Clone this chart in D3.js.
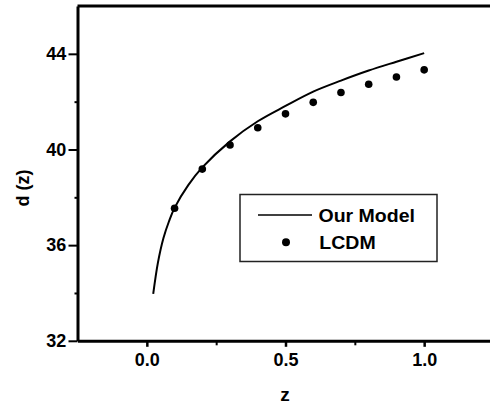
<!DOCTYPE html>
<html>
<head>
<meta charset="utf-8">
<script src="https://d3js.org/d3.v7.min.js"></script>
<style>
body { margin: 0; background: #fff; }
svg text { font-family: "Liberation Sans", Arial, Helvetica, sans-serif; font-weight: bold; }
.axisClass text { font-size: 18px; fill: #000; }
</style>
</head>
<body>
<div id="chart"></div>
<script>

// LCDM points
const lcdmZ = [0.1, 0.2, 0.3, 0.4, 0.5, 0.6, 0.7, 0.8, 0.9, 1.0]
const lcdmD = [37.54, 39.18, 40.19, 40.91, 41.49, 41.97, 42.38, 42.73, 43.03, 43.33]

// our model curve
const modelZ = [0.023, 0.04, 0.06, 0.08, 0.1, 0.15, 0.2, 0.3, 0.4, 0.5, 0.6, 0.7, 0.8, 0.9, 1.0]
const modelD = [33.96, 35.27, 36.3, 37.0, 37.56, 38.52, 39.25, 40.34, 41.18, 41.82, 42.42, 42.88, 43.3, 43.67, 44.03]

const yMajor = [32, 36, 40, 44]
const yMinor = [34, 38, 42]
const xMajor = [0, 0.5, 1.0]
const xMinor = [0.25, 0.75]

const legendLabels = ["Our Model", "LCDM"]

const width = 490
const height = 409

const config = {
    top: 6,
    bottom: 340.8,
    left: 77.5,
    right: 493.5,
}

const xScale = d3.scaleLinear().domain([-0.25, 1.25]).range([config.left, config.right])
const yScale = d3.scaleLinear().domain([32, 46]).range([config.bottom, config.top])

const svg = d3.select('#chart').append('svg').attr("width", width).attr("height", height)

// top frame line
svg.append('line')
    .attr("x1", xScale(-0.25))
    .attr("x2", xScale(1.25))
    .attr("y1", yScale(46))
    .attr("y2", yScale(46))
    .attr("stroke", "#000")
    .attr("stroke-width", 3)

// minor ticks
const yMinorAxis = d3.axisLeft(yScale).tickValues(yMinor).tickSize(3).tickFormat("").tickSizeOuter(0)
svg.append('g')
    .attr("transform", `translate(${config.left},0)`)
    .call(yMinorAxis)
    .call(g => g.select(".domain").remove())
    .selectAll("line").attr("stroke-width", 2)

const xMinorAxis = d3.axisBottom(xScale).tickValues(xMinor).tickSize(4.5).tickFormat("").tickSizeOuter(0)
svg.append('g')
    .attr("transform", `translate(0,${config.bottom})`)
    .call(xMinorAxis)
    .call(g => g.select(".domain").remove())
    .selectAll("line").attr("stroke-width", 2)

// major axes
const axisLeft = d3.axisLeft(yScale).tickValues(yMajor).tickSize(9).tickPadding(2.3).tickSizeOuter(0).tickFormat(d3.format("d"))
const axisBottom = d3.axisBottom(xScale).tickValues(xMajor).tickSize(6).tickPadding(6.4).tickSizeOuter(0).tickFormat(d3.format(".1f"))

const gLeft = svg.append('g')
    .attr("transform", `translate(${config.left},0)`)
    .attr('class', "axisClass")
    .call(axisLeft)
gLeft.select(".domain").attr("stroke-width", 3)
gLeft.selectAll(".tick line").attr("stroke-width", 2)
gLeft.selectAll("text").attr("font-family", null)

const gBottom = svg.append('g')
    .attr("transform", `translate(0,${config.bottom})`)
    .attr('class', "axisClass")
    .call(axisBottom)
gBottom.select(".domain").attr("stroke-width", 3)
gBottom.selectAll(".tick line").attr("stroke-width", 2.5)
gBottom.selectAll("text").attr("font-family", null)

// axis titles
svg.append('text')
    .attr("x", 285)
    .attr("y", 401)
    .attr("text-anchor", "middle")
    .attr("font-size", 19)
    .text("z")

svg.append('text')
    .attr("transform", "translate(29,188) rotate(-90)")
    .attr("text-anchor", "middle")
    .attr("font-size", 18)
    .text("d (z)")

// model line
const lineGenerator = d3.line()
    .x(d => xScale(d[0]))
    .y(d => yScale(d[1]))
    .curve(d3.curveCatmullRom.alpha(0.5))

const modelData = modelZ.map((z, i) => [z, modelD[i]])

svg.append('path')
    .datum(modelData)
    .attr("d", lineGenerator)
    .attr("fill", "none")
    .attr("stroke", "#000")
    .attr("stroke-width", 2)

// LCDM dots
svg.selectAll('circle.lcdm')
    .data(lcdmZ.map((z, i) => [z, lcdmD[i]]))
    .enter()
    .append('circle')
    .attr("class", "lcdm")
    .attr("cx", d => xScale(d[0]))
    .attr("cy", d => yScale(d[1]))
    .attr("r", 3.8)
    .attr("fill", "#000")

// legend
const legend = svg.append('g').attr("transform", "translate(240,194.5)")

legend.append('rect')
    .attr("x", 0)
    .attr("y", 0)
    .attr("width", 197)
    .attr("height", 67)
    .attr("fill", "#fff")
    .attr("stroke", "#222")
    .attr("stroke-width", 1.5)

legend.append('line')
    .attr("x1", 18)
    .attr("x2", 72)
    .attr("y1", 20.5)
    .attr("y2", 20.5)
    .attr("stroke", "#000")
    .attr("stroke-width", 1.6)

legend.append('circle')
    .attr("cx", 46)
    .attr("cy", 47.8)
    .attr("r", 4)
    .attr("fill", "#000")

legend.append('text')
    .attr("x", 78.5)
    .attr("y", 27)
    .attr("font-size", 18.5)
    .attr("textLength", 96.5)
    .attr("lengthAdjust", "spacingAndGlyphs")
    .text(legendLabels[0])

legend.append('text')
    .attr("x", 79.3)
    .attr("y", 54.5)
    .attr("font-size", 18.5)
    .attr("textLength", 56.4)
    .attr("lengthAdjust", "spacingAndGlyphs")
    .text(legendLabels[1])

</script>
</body>
</html>
